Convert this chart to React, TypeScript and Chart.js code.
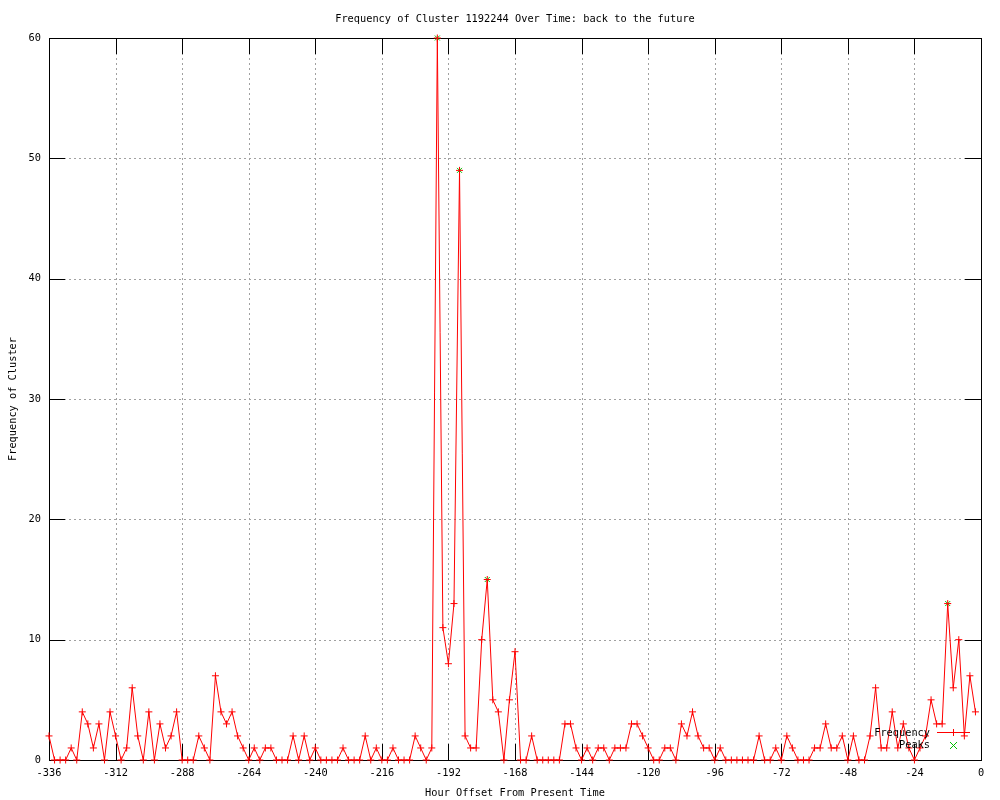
import React, { useEffect, useRef } from "react";
import { Chart, registerables } from "chart.js";

Chart.register(...registerables);

// Hour offsets (every 2 hours)
const HOURS = [
  -336, -334, -332, -330, -328, -326, -324, -322, -320, -318, -316, -314, -312, -310,
  -308, -306, -304, -302, -300, -298, -296, -294, -292, -290, -288, -286, -284, -282,
  -280, -278, -276, -274, -272, -270, -268, -266, -264, -262, -260, -258, -256, -254,
  -252, -250, -248, -246, -244, -242, -240, -238, -236, -234, -232, -230, -228, -226,
  -224, -222, -220, -218, -216, -214, -212, -210, -208, -206, -204, -202, -200, -198,
  -196, -194, -192, -190, -188, -186, -184, -182, -180, -178, -176, -174, -172, -170,
  -168, -166, -164, -162, -160, -158, -156, -154, -152, -150, -148, -146, -144, -142,
  -140, -138, -136, -134, -132, -130, -128, -126, -124, -122, -120, -118, -116, -114,
  -112, -110, -108, -106, -104, -102, -100, -98, -96, -94, -92, -90, -88, -86,
  -84, -82, -80, -78, -76, -74, -72, -70, -68, -66, -64, -62, -60, -58,
  -56, -54, -52, -50, -48, -46, -44, -42, -40, -38, -36, -34, -32, -30,
  -28, -26, -24, -22, -20, -18, -16, -14, -12, -10, -8, -6, -4, -2,
];

const FREQUENCY = [
  2, 0, 0, 0, 1, 0, 4, 3, 1, 3, 0, 4, 2, 0,
  1, 6, 2, 0, 4, 0, 3, 1, 2, 4, 0, 0, 0, 2,
  1, 0, 7, 4, 3, 4, 2, 1, 0, 1, 0, 1, 1, 0,
  0, 0, 2, 0, 2, 0, 1, 0, 0, 0, 0, 1, 0, 0,
  0, 2, 0, 1, 0, 0, 1, 0, 0, 0, 2, 1, 0, 1,
  60, 11, 8, 13, 49, 2, 1, 1, 10, 15, 5, 4, 0, 5,
  9, 0, 0, 2, 0, 0, 0, 0, 0, 3, 3, 1, 0, 1,
  0, 1, 1, 0, 1, 1, 1, 3, 3, 2, 1, 0, 0, 1,
  1, 0, 3, 2, 4, 2, 1, 1, 0, 1, 0, 0, 0, 0,
  0, 0, 2, 0, 0, 1, 0, 2, 1, 0, 0, 0, 1, 1,
  3, 1, 1, 2, 0, 2, 0, 0, 2, 6, 1, 1, 4, 1,
  3, 1, 0, 1, 2, 5, 3, 3, 13, 6, 10, 2, 7, 4,
];

const PEAK_HOURS = [-196, -188, -178, -12];
const PEAK_VALUES = [60, 49, 15, 13];

const TITLE = "Frequency of Cluster 1192244 Over Time: back to the future";
const X_TITLE = "Hour Offset From Present Time";
const Y_TITLE = "Frequency of Cluster";
const LEGEND_LABELS = ["Frequency", "Peaks"];

const FONT = '10.3px "DejaVu Sans Mono", "Liberation Mono", monospace';
const RED = "#ff0000";
const GREEN = "#00c000";
const TIC = 16;

const gnuplotPlugin = {
  id: "gnuplotFrame",
  beforeDatasetsDraw(chart: any) {
    const { ctx, chartArea: a, scales } = chart;
    const x = scales.x;
    const y = scales.y;
    ctx.save();
    ctx.lineWidth = 1;
    // dotted grid
    ctx.strokeStyle = "#a0a0a0";
    ctx.setLineDash([2, 3]);
    for (const t of x.ticks) {
      if (t.value <= x.min || t.value >= x.max) continue;
      const px = Math.round(x.getPixelForValue(t.value)) + 0.5;
      ctx.beginPath();
      ctx.moveTo(px, a.top);
      ctx.lineTo(px, a.bottom);
      ctx.stroke();
    }
    for (const t of y.ticks) {
      if (t.value <= y.min || t.value >= y.max) continue;
      const py = Math.round(y.getPixelForValue(t.value)) + 0.5;
      ctx.beginPath();
      ctx.moveTo(a.left, py);
      ctx.lineTo(a.right, py);
      ctx.stroke();
    }
    ctx.setLineDash([]);
    ctx.strokeStyle = "#000000";
    // tic marks (inside, mirrored)
    for (const t of x.ticks) {
      const px = Math.round(x.getPixelForValue(t.value)) + 0.5;
      ctx.beginPath();
      ctx.moveTo(px, a.bottom);
      ctx.lineTo(px, a.bottom - TIC);
      ctx.moveTo(px, a.top);
      ctx.lineTo(px, a.top + TIC);
      ctx.stroke();
    }
    for (const t of y.ticks) {
      const py = Math.round(y.getPixelForValue(t.value)) + 0.5;
      ctx.beginPath();
      ctx.moveTo(a.left, py);
      ctx.lineTo(a.left + TIC, py);
      ctx.moveTo(a.right, py);
      ctx.lineTo(a.right - TIC, py);
      ctx.stroke();
    }
    // border
    ctx.strokeRect(a.left + 0.5, a.top + 0.5, a.right - a.left, a.bottom - a.top);
    ctx.restore();
  },
  afterDraw(chart: any) {
    const { ctx, chartArea: a } = chart;
    ctx.save();
    ctx.font = FONT;
    ctx.fillStyle = "#000000";
    ctx.textBaseline = "middle";
    ctx.textAlign = "center";
    const cx = (a.left + a.right) / 2;
    ctx.fillText(TITLE, cx, 19);
    ctx.fillText(X_TITLE, cx, 793);
    ctx.save();
    ctx.translate(13, (a.top + a.bottom) / 2);
    ctx.rotate(-Math.PI / 2);
    ctx.fillText(Y_TITLE, 0, 0);
    ctx.restore();

    // legend
    ctx.textAlign = "right";
    const textRight = 930;
    const row1 = 733;
    const row2 = 745.5;
    ctx.fillText(LEGEND_LABELS[0], textRight, row1);
    ctx.fillText(LEGEND_LABELS[1], textRight, row2);
    ctx.lineWidth = 1;
    ctx.strokeStyle = RED;
    ctx.beginPath();
    ctx.moveTo(937, row1 - 0.5);
    ctx.lineTo(970, row1 - 0.5);
    ctx.moveTo(953.5, row1 - 4);
    ctx.lineTo(953.5, row1 + 3);
    ctx.stroke();
    ctx.strokeStyle = GREEN;
    ctx.beginPath();
    ctx.moveTo(950, row2 - 3.5);
    ctx.lineTo(957, row2 + 3.5);
    ctx.moveTo(957, row2 - 3.5);
    ctx.lineTo(950, row2 + 3.5);
    ctx.stroke();
    ctx.restore();
  },
};

export default function App() {
  const ref = useRef<HTMLCanvasElement | null>(null);

  useEffect(() => {
    if (!ref.current) return;
    const freqData = HOURS.map((h, i) => ({ x: h, y: FREQUENCY[i] }));
    const peakData = PEAK_HOURS.map((h, i) => ({ x: h, y: PEAK_VALUES[i] }));
    const chart = new Chart(ref.current, {
      type: "scatter",
      data: {
        datasets: [
          {
            label: LEGEND_LABELS[0],
            data: freqData,
            showLine: true,
            borderColor: RED,
            backgroundColor: RED,
            borderWidth: 1,
            tension: 0,
            pointStyle: "cross",
            pointRadius: 3.5,
            pointBorderColor: RED,
            pointBorderWidth: 1,
            clip: 10,
          } as any,
          {
            label: LEGEND_LABELS[1],
            data: peakData,
            showLine: false,
            pointStyle: "crossRot",
            pointRadius: 3.5,
            pointBorderColor: GREEN,
            pointBackgroundColor: GREEN,
            pointBorderWidth: 1,
            clip: 10,
          } as any,
        ],
      },
      options: {
        responsive: false,
        animation: false,
        events: [],
        layout: { padding: { top: 38, right: 19, left: 0, bottom: 0 } },
        plugins: {
          legend: { display: false },
          title: { display: false },
          tooltip: { enabled: false },
        },
        scales: {
          x: {
            type: "linear",
            min: -336,
            max: 0,
            grid: { display: false, drawTicks: false },
            border: { display: false },
            afterFit: (s: any) => {
              s.height = 40;
            },
            ticks: {
              stepSize: 24,
              autoSkip: false,
              maxRotation: 0,
              minRotation: 0,
              padding: 7,
              color: "#000000",
              font: { family: '"DejaVu Sans Mono", monospace', size: 10.3 },
              callback: (v: any) => String(v),
            },
          },
          y: {
            type: "linear",
            min: 0,
            max: 60,
            grid: { display: false, drawTicks: false },
            border: { display: false },
            afterFit: (s: any) => {
              s.width = 49;
            },
            ticks: {
              stepSize: 10,
              padding: 8,
              color: "#000000",
              font: { family: '"DejaVu Sans Mono", monospace', size: 10.3 },
              callback: (v: any) => String(v),
            },
          },
        },
      },
      plugins: [gnuplotPlugin],
    });
    return () => chart.destroy();
  }, []);

  return (
    <div style={{ position: "absolute", left: 0, top: 0, width: 1000, height: 800, background: "#ffffff" }}>
      <canvas ref={ref} width={1000} height={800} style={{ width: 1000, height: 800, display: "block" }} />
    </div>
  );
}
